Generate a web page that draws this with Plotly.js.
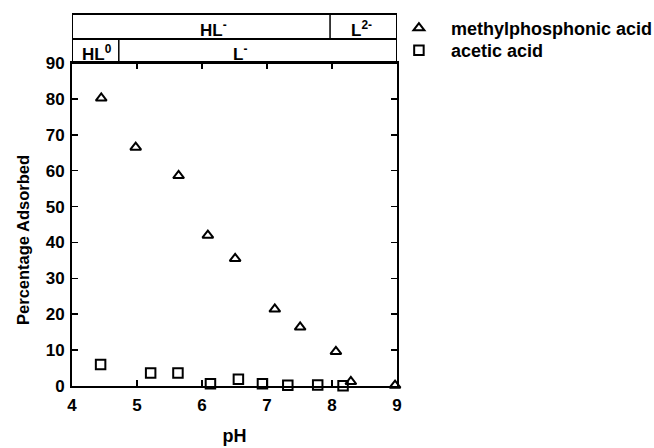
<!DOCTYPE html>
<html>
<head>
<meta charset="utf-8">
<script src="https://cdn.plot.ly/plotly-3.0.1.min.js"></script>
<style>html,body{margin:0;padding:0;background:#fff;}#chart{width:654px;height:448px;}</style>
</head>
<body>
<div id="chart"></div>
<script>
// Data
const mpaPH = [4.45, 4.98, 5.64, 6.09, 6.51, 7.12, 7.51, 8.06, 8.29, 8.97];
const mpaAds = [80.2, 66.5, 58.6, 42.0, 35.5, 21.4, 16.4, 9.6, 1.2, 0.2];
const aaPH = [4.44, 5.21, 5.63, 6.13, 6.56, 6.93, 7.32, 7.78, 8.17];
const aaAds = [6.0, 3.6, 3.6, 0.6, 1.9, 0.6, 0.2, 0.3, 0.1];
const seriesNames = ["methylphosphonic acid", "acetic acid"];
const xTicks = [4, 5, 6, 7, 8, 9];
const yTicks = [0, 10, 20, 30, 40, 50, 60, 70, 80, 90];
// species boundaries (pH) for the two bands above the plot
const mpaBoundary = [7.97];
const aaBoundary = [4.72];
const mpaSpecies = [{t: "HL<sup>-</sup>", x: 6.18}, {t: "L<sup>2-</sup>", x: 8.46}];
const aaSpecies = [{t: "HL<sup>0</sup>", x: 4.39}, {t: "L<sup>-</sup>", x: 6.59}];

const FONT = "Liberation Sans, Arial, sans-serif";
const bold = (s) => ({family: FONT, size: s, color: "#000", weight: 700});

const traces = [
  {x: mpaPH, y: mpaAds, name: seriesNames[0], mode: "markers", type: "scatter", cliponaxis: false, legend: "legend",
   marker: {symbol: "triangle-up-open", size: 9.5, color: "#000", line: {width: 2, color: "#000"}}},
  {x: aaPH, y: aaAds, name: seriesNames[1], mode: "markers", type: "scatter", cliponaxis: false, legend: "legend2",
   marker: {symbol: "square-open", size: 9.5, color: "#000", line: {width: 2, color: "#000"}}}
];

const yRow1Top = 1.1517, yRow1Bot = 1.0743;
const shapes = [
  {type: "rect", xref: "x", yref: "paper", x0: 4, x1: 9, y0: 1, y1: yRow1Top, line: {color: "#000", width: 2}},
  {type: "line", xref: "x", yref: "paper", x0: 4, x1: 9, y0: yRow1Bot, y1: yRow1Bot, line: {color: "#000", width: 2}},
];
mpaBoundary.forEach(b => shapes.push({type: "line", xref: "x", yref: "paper", x0: b, x1: b, y0: yRow1Bot, y1: yRow1Top, line: {color: "#000", width: 1.5}}));
aaBoundary.forEach(b => shapes.push({type: "line", xref: "x", yref: "paper", x0: b, x1: b, y0: 1, y1: yRow1Bot, line: {color: "#000", width: 1.5}}));

const annotations = [];
mpaSpecies.forEach(s => annotations.push({text: s.t, x: s.x, y: 1.105, xref: "x", yref: "paper", showarrow: false, xanchor: "center", yanchor: "middle", font: bold(17)}));
aaSpecies.forEach(s => annotations.push({text: s.t, x: s.x, y: 1.03, xref: "x", yref: "paper", showarrow: false, xanchor: "center", yanchor: "middle", font: bold(17)}));
annotations.push({text: "Percentage Adsorbed", textangle: -90, x: -0.151, y: 0.452, xref: "paper", yref: "paper", showarrow: false, xanchor: "center", yanchor: "middle", font: bold(16.5)});

const axisCommon = {showgrid: false, zeroline: false, showline: true, linecolor: "#000", linewidth: 2,
  ticks: "inside", ticklen: 6, tickwidth: 1.5, tickcolor: "#000", mirror: "ticks", tickfont: bold(17)};

const legendCommon = {x: 0.969, xanchor: "left", yanchor: "top", font: bold(18), bgcolor: "rgba(0,0,0,0)", itemwidth: 54};

const layout = {
  width: 654, height: 448,
  margin: {l: 72, r: 257, t: 63, b: 62, autoexpand: false},
  paper_bgcolor: "#fff", plot_bgcolor: "#fff",
  font: {family: FONT, color: "#000"},
  xaxis: Object.assign({}, axisCommon, {range: [4, 9], tickvals: xTicks, ticktext: xTicks.map(String), ticklabelstandoff: 3,
    title: {text: "pH", font: bold(18), standoff: 15}}),
  yaxis: Object.assign({}, axisCommon, {range: [0, 90], tickvals: yTicks, ticktext: yTicks.map(String), ticklabelstandoff: 2}),
  showlegend: true,
  legend: Object.assign({}, legendCommon, {y: 1.165}),
  legend2: Object.assign({}, legendCommon, {y: 1.096}),
  shapes: shapes,
  annotations: annotations
};

Plotly.newPlot("chart", traces, layout, {displayModeBar: false, staticPlot: true});
</script>
</body>
</html>
